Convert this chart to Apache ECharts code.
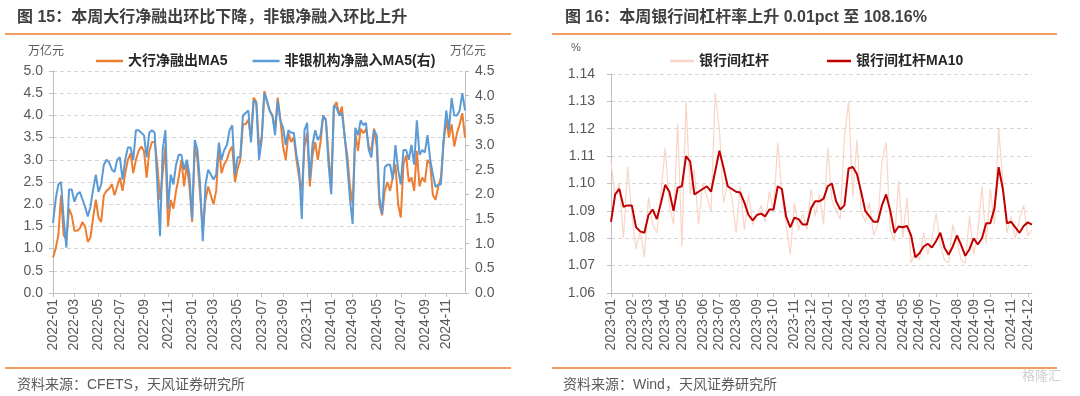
<!DOCTYPE html>
<html>
<head>
<meta charset="utf-8">
<script src="https://cdn.jsdelivr.net/npm/echarts@6/dist/echarts.min.js"></script>
<style>
  html, body { margin: 0; padding: 0; background: #fff; }
  #main { width: 1080px; height: 396px; }
</style>
</head>
<body>
<div id="main"></div>
<script>
// 图15: weekly samples, 2022-01 .. 2024-12
const bigBankOut = [
  0.8, 1.0, 1.3, 2.2, 1.3, 1.2, 1.9, 1.75, 1.4, 1.4,
  1.45, 1.6, 1.5, 1.15, 1.25, 1.7, 2.1, 1.7, 1.6, 2.2,
  2.3, 2.35, 2.45, 2.2, 2.4, 2.6, 2.3, 2.7, 3.0, 3.15,
  2.7, 3.0, 3.2, 3.3, 3.2, 2.6, 3.2, 3.4, 3.4, 2.9,
  2.1, 2.7, 3.3, 1.5, 2.1, 1.9, 2.3, 2.6, 3.0, 2.4,
  2.9, 2.4, 1.6, 3.3, 3.0, 2.2, 1.4, 2.1, 2.4, 2.2,
  2.0, 2.3, 3.3, 2.7, 2.9, 3.0, 3.2, 3.3, 2.5, 2.8,
  3.0, 3.8, 3.8, 3.9, 3.5, 4.4, 4.3, 3.3, 3.5, 4.55,
  4.3, 4.1, 4.0, 3.7, 4.4, 3.9, 3.3, 3.0, 3.6, 3.4,
  3.5, 3.0, 2.6, 2.3, 3.3, 3.6, 2.4, 3.1, 3.4, 3.0,
  3.4, 4.0, 3.9, 3.1, 2.4, 4.2, 4.3, 4.0, 4.2, 3.5,
  3.1, 2.4, 2.0, 3.6, 3.2, 3.7, 3.6, 3.7, 3.3, 3.2,
  3.7, 3.3, 2.0, 1.75, 2.3, 2.5, 2.3, 2.6, 2.9, 2.0,
  1.7, 2.9, 3.1, 2.5, 2.6, 2.3, 3.2, 2.4, 2.6, 2.5,
  3.0, 2.9, 2.2, 2.1, 2.4, 2.6, 3.4, 3.9, 3.5, 3.8,
  3.3, 3.6, 3.8, 4.05, 3.5
]
const nonBankIn = [
  1.42, 1.9, 2.2, 2.25, 1.5, 0.92, 2.1, 2.1, 1.85, 2.0,
  2.05, 1.9, 1.75, 1.55, 1.75, 2.1, 2.4, 2.05, 2.2, 2.6,
  2.7, 2.65, 2.5, 2.45, 2.7, 2.75, 2.3, 2.7, 2.95, 2.95,
  2.7, 3.3, 3.3, 3.25, 3.2, 2.75, 3.25, 3.3, 3.25, 2.2,
  1.15, 2.9, 3.3, 1.7, 2.4, 2.2, 2.6, 2.8, 2.8, 2.5,
  2.7, 2.4, 1.5, 3.1, 2.9, 2.2, 1.05, 2.2, 2.5, 2.4,
  2.3, 2.4, 3.05, 2.7, 2.9, 3.0, 3.3, 3.4, 2.4, 2.75,
  2.75, 3.6, 3.65, 3.7, 3.05, 3.9, 3.85, 2.7, 3.1, 4.05,
  3.9, 3.7, 3.6, 3.2, 3.9, 3.5, 3.35, 3.0, 3.3, 3.25,
  3.25, 2.8, 2.5, 1.5, 3.3, 3.45, 2.3, 3.0, 3.3, 3.1,
  3.2, 3.6, 3.5, 2.6, 2.0, 3.8, 3.75, 3.6, 3.65, 3.2,
  2.6, 1.9, 1.4, 3.35, 3.2, 3.5, 3.4, 3.45, 2.9, 2.75,
  3.3, 3.2, 1.95, 1.6, 2.55, 2.6, 2.6, 2.3, 3.0, 2.5,
  2.2, 2.9, 2.9, 2.7, 3.0, 2.6, 3.5, 2.8, 2.9, 2.85,
  3.2, 2.7, 2.4, 2.15, 2.2, 2.2, 3.1, 3.7, 3.3, 3.95,
  3.6, 3.6, 3.7, 4.05, 3.7
]

// 图16: weekly samples, 2023-01 .. 2024-12
const leverage = [
  1.108, 1.095, 1.100, 1.080, 1.106, 1.089, 1.076, 1.083, 1.073, 1.095,
  1.085, 1.082, 1.097, 1.113, 1.092, 1.085, 1.122, 1.077, 1.130, 1.096,
  1.105, 1.085, 1.100, 1.095, 1.090, 1.133, 1.120, 1.093, 1.100, 1.095,
  1.082, 1.099, 1.083, 1.096, 1.085, 1.088, 1.092, 1.086, 1.097, 1.090,
  1.115, 1.096, 1.085, 1.074, 1.093, 1.083, 1.089, 1.083, 1.098, 1.088,
  1.096, 1.085, 1.113, 1.094, 1.090, 1.087, 1.117, 1.130, 1.095, 1.116,
  1.090, 1.086, 1.093, 1.081, 1.085, 1.108, 1.115, 1.083, 1.079, 1.101,
  1.080, 1.095, 1.071, 1.075, 1.072, 1.082, 1.074, 1.080, 1.089, 1.078,
  1.072, 1.071, 1.085, 1.079, 1.072, 1.071, 1.088, 1.074, 1.082, 1.099,
  1.078, 1.098, 1.085, 1.120, 1.101, 1.082, 1.088, 1.080, 1.087, 1.092,
  1.081, 1.083
]
const leverageMA10 = [
  1.086, 1.096, 1.098, 1.0915, 1.092, 1.092, 1.084, 1.0825, 1.082, 1.0885,
  1.0905, 1.087, 1.093, 1.0995, 1.097, 1.090, 1.0985, 1.099, 1.110, 1.108,
  1.096, 1.097, 1.098, 1.099, 1.097, 1.1045, 1.112, 1.1058, 1.099, 1.098,
  1.097, 1.0967, 1.093, 1.0885, 1.0865, 1.0885, 1.089, 1.088, 1.0905, 1.0905,
  1.099, 1.098, 1.088, 1.084, 1.0875, 1.087, 1.085, 1.085, 1.091, 1.0935,
  1.0935, 1.0945, 1.099, 1.100, 1.0935, 1.0905, 1.092, 1.1055, 1.106, 1.1035,
  1.097, 1.090, 1.088, 1.086, 1.086, 1.092, 1.096, 1.090, 1.082, 1.0843,
  1.084, 1.0845, 1.081, 1.073, 1.0745, 1.077, 1.078, 1.0766, 1.079, 1.082,
  1.0765, 1.074, 1.077, 1.081, 1.0775, 1.0736, 1.076, 1.080, 1.0777, 1.080,
  1.0855, 1.0855, 1.091, 1.106, 1.098, 1.0855, 1.086, 1.084, 1.082, 1.0845,
  1.0858, 1.085
]

const FONT = "'Liberation Sans', 'Noto Sans CJK SC', sans-serif"
const GRAY = '#595959'
const AXIS = '#bfbfbf'

function weeklyDates(start, count) {
  let out = []
  let t0 = new Date(start + 'T00:00:00Z').getTime()
  for (let i = 0; i < count; i++) {
    out.push(new Date(t0 + i * 7 * 86400000).toISOString().slice(0, 10))
  }
  return out
}

const datesL = weeklyDates('2022-01-07', bigBankOut.length)
const datesR = weeklyDates('2023-01-03', leverage.length)

// show a label on the first week of every `step`-th month
function monthStart(dates, step) {
  return function (idx) {
    let m = parseInt(dates[idx].slice(5, 7))
    if (idx > 0 && dates[idx - 1].slice(5, 7) === dates[idx].slice(5, 7)) return false
    return (m - 1) % step === 0
  }
}

function xAxisFor(grid, dates, step) {
  let fn = monthStart(dates, step)
  return {
    type: 'category', gridIndex: grid, data: dates, boundaryGap: false,
    axisLine: { lineStyle: { color: AXIS } },
    axisTick: { interval: fn, length: 4, lineStyle: { color: AXIS } },
    axisLabel: {
      interval: fn, rotate: 90, margin: 6, fontSize: 14, color: GRAY, fontFamily: FONT,
      formatter: v => v.slice(0, 7)
    },
    splitLine: { show: false }
  }
}

function yAxisFor(grid, opts) {
  return Object.assign({
    type: 'value', gridIndex: grid,
    axisLine: { show: true, lineStyle: { color: AXIS } },
    axisTick: { show: true, length: 4, lineStyle: { color: AXIS } },
    axisLabel: { fontSize: 14, color: GRAY, fontFamily: FONT },
    splitLine: { show: true, lineStyle: { color: '#d6d6d6', type: [4, 3] } }
  }, opts)
}

function text(x, y, str, style) {
  return {
    type: 'text', x: x, y: y,
    style: Object.assign({ text: str, fontFamily: FONT, fill: GRAY, verticalAlign: 'middle' }, style)
  }
}

function rule(x1, x2, y) {
  return {
    type: 'line', shape: { x1: x1, y1: y, x2: x2, y2: y },
    style: { stroke: '#ED7D31', lineWidth: 1.5 }
  }
}

const chart = echarts.init(document.getElementById('main'))

chart.setOption({
  animation: false,
  textStyle: { fontFamily: FONT },
  grid: [
    { left: 53, right: 615, top: 71, bottom: 103 },
    { left: 611, right: 48, top: 74, bottom: 103 }
  ],
  legend: [
    {
      left: 91, top: 49, icon: 'rect', itemWidth: 27, itemHeight: 2.5, itemGap: 25,
      textStyle: { fontSize: 14, fontWeight: 'bold', color: '#262626', fontFamily: FONT },
      data: ['大行净融出MA5', '非银机构净融入MA5(右)']
    },
    {
      left: 665, top: 49, icon: 'rect', itemWidth: 24, itemHeight: 2.5, itemGap: 58,
      textStyle: { fontSize: 14, fontWeight: 'bold', color: '#262626', fontFamily: FONT },
      data: ['银行间杠杆', '银行间杠杆MA10']
    }
  ],
  xAxis: [
    xAxisFor(0, datesL, 2),
    xAxisFor(1, datesR, 1)
  ],
  yAxis: [
    yAxisFor(0, { min: 0, max: 5, interval: 0.5, axisLabel: { fontSize: 14, color: GRAY, fontFamily: FONT, margin: 10, formatter: v => v.toFixed(1) } }),
    yAxisFor(0, { position: 'right', min: 0, max: 4.5, interval: 0.5, splitLine: { show: false },
      axisLabel: { fontSize: 14, color: GRAY, fontFamily: FONT, margin: 10, formatter: v => v.toFixed(1) } }),
    yAxisFor(1, { min: 1.06, max: 1.14, interval: 0.01,
      axisLabel: { fontSize: 14, color: GRAY, fontFamily: FONT, margin: 16, formatter: v => v.toFixed(2) } })
  ],
  series: [
    {
      name: '大行净融出MA5', type: 'line', xAxisIndex: 0, yAxisIndex: 0,
      data: bigBankOut, showSymbol: false, color: '#ED7D31', lineStyle: { width: 2 }
    },
    {
      name: '非银机构净融入MA5(右)', type: 'line', xAxisIndex: 0, yAxisIndex: 1,
      data: nonBankIn, showSymbol: false, color: '#5B9BD5', lineStyle: { width: 2 }
    },
    {
      name: '银行间杠杆', type: 'line', xAxisIndex: 1, yAxisIndex: 2,
      data: leverage, showSymbol: false, color: '#f8d5c6', lineStyle: { width: 1.2 }
    },
    {
      name: '银行间杠杆MA10', type: 'line', xAxisIndex: 1, yAxisIndex: 2,
      data: leverageMA10, showSymbol: false, color: '#C00000', lineStyle: { width: 2 }
    }
  ],
  graphic: [
    text(17, 18, '图 15：本周大行净融出环比下降，非银净融入环比上升', { fontSize: 16, fontWeight: 'bold', fill: '#404040' }),
    text(565, 18, '图 16：本周银行间杠杆率上升 0.01pct 至 108.16%', { fontSize: 16, fontWeight: 'bold', fill: '#404040' }),
    rule(5, 511, 34),
    rule(552, 1057, 34),
    text(28, 52, '万亿元', { fontSize: 12 }),
    text(450, 52, '万亿元', { fontSize: 12 }),
    text(571, 48, '%', { fontSize: 11 }),
    rule(5, 511, 368),
    rule(552, 1057, 368),
    text(17, 385, '资料来源：CFETS，天风证券研究所', { fontSize: 14 }),
    text(563, 385, '资料来源：Wind，天风证券研究所', { fontSize: 14 }),
    text(1022, 376, '格隆汇', { fontSize: 13, fill: '#cfcfcf' })
  ]
})
</script>
</body>
</html>
